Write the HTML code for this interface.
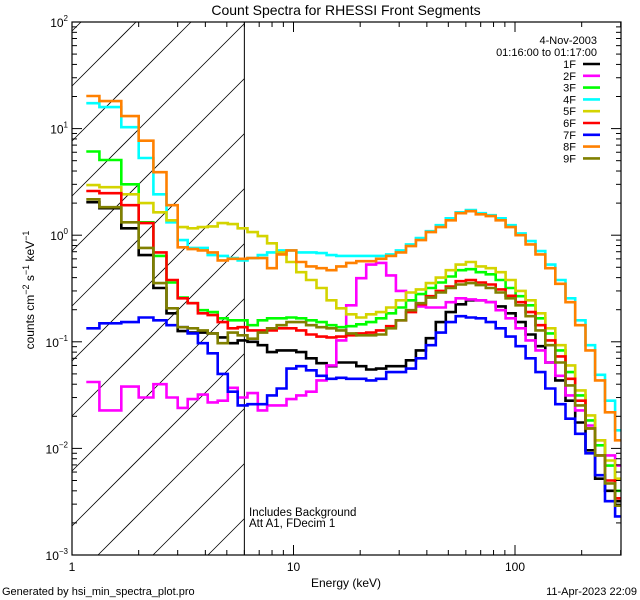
<!DOCTYPE html>
<html><head><meta charset="utf-8"><style>
html,body{margin:0;padding:0;background:#fff;width:640px;height:600px;overflow:hidden;}
svg{display:block;font-family:"Liberation Sans",sans-serif;overflow:hidden;}
</style></head><body>
<svg id="chart" width="640" height="600" viewBox="0 0 640 600">
<rect x="0" y="0" width="640" height="600" fill="#fff"/>
<text x="346" y="15" text-anchor="middle" font-size="14">Count Spectra for RHESSI Front Segments</text>
<g id="hatch"></g>
<g id="series"></g>
<g id="axes"></g>
<text x="597" y="44" text-anchor="end" font-size="11">4-Nov-2003</text>
<text x="597" y="56" text-anchor="end" font-size="11">01:16:00 to 01:17:00</text>
<g id="legend"></g>
<text x="249" y="516" font-size="11.5">Includes Background</text>
<text x="249" y="527" font-size="11.5">Att A1, FDecim 1</text>
<text x="346" y="587" text-anchor="middle" font-size="12">Energy (keV)</text>
<text transform="translate(34,290) rotate(-90)" text-anchor="middle" font-size="12">counts cm<tspan dy="-5" font-size="9">−2</tspan><tspan dy="5"> s</tspan><tspan dy="-5" font-size="9">−1</tspan><tspan dy="5"> keV</tspan><tspan dy="-5" font-size="9">−1</tspan></text>
<text x="2" y="595" font-size="11">Generated by hsi_min_spectra_plot.pro</text>
<text x="637" y="595" text-anchor="end" font-size="11">11-Apr-2023 22:09</text>
</svg>
<script>
const energyEdges=[1.16,1.33,1.67,2,2.33,2.67,3,3.33,3.7,4.1,4.55,5.05,5.6,6.2,6.9,7.6,8.4,9.3,10.3,11.4,12.7,14.1,15.6,17.3,19.2,21.3,23.6,26.2,29,32.2,35.7,39.6,43.9,48.7,54,60,66.5,73.8,81.8,90.7,100.6,111.6,123.8,137,152,169,187,208,230,255,283,301];
const seriesNames=["1F","2F","3F","4F","5F","6F","7F","8F","9F"];
const seriesColors=["#000000","#ff00ff","#00ff00","#00ffff","#d4d400","#ff0000","#0000ff","#ff8000","#808000"];
const s1F=[2.04,1.79,1.16,0.65,0.32,0.185,0.126,0.122,0.122,0.12,0.11,0.097,0.103,0.10,0.093,0.08,0.083,0.083,0.08,0.07,0.063,0.059,0.064,0.064,0.059,0.055,0.056,0.059,0.059,0.067,0.083,0.108,0.153,0.19,0.225,0.245,0.245,0.235,0.215,0.185,0.153,0.117,0.091,0.064,0.0434,0.028,0.0175,0.0096,0.0052,0.004,0.0032];
const s2F=[0.042,0.0227,0.038,0.030,0.040,0.030,0.024,0.029,0.032,0.027,0.028,0.037,0.030,0.033,0.0227,0.0253,0.0253,0.029,0.0314,0.034,0.0434,0.060,0.103,0.22,0.395,0.53,0.55,0.42,0.30,0.245,0.215,0.21,0.21,0.235,0.256,0.25,0.245,0.235,0.198,0.166,0.134,0.103,0.083,0.064,0.048,0.0314,0.0227,0.0164,0.0119,0.0086,0.0069];
const s3F=[6.1,5.07,3.0,1.32,0.64,0.36,0.26,0.23,0.198,0.19,0.166,0.159,0.159,0.143,0.159,0.166,0.166,0.169,0.166,0.159,0.153,0.143,0.137,0.14,0.146,0.153,0.166,0.185,0.21,0.245,0.28,0.32,0.36,0.41,0.47,0.48,0.45,0.43,0.38,0.32,0.268,0.22,0.166,0.12,0.083,0.052,0.0314,0.0183,0.0107,0.0069,0.004];
const s4F=[17.3,15.9,10.3,5.3,2.42,1.32,0.90,0.76,0.76,0.65,0.64,0.61,0.58,0.61,0.65,0.69,0.72,0.72,0.69,0.69,0.68,0.65,0.64,0.64,0.64,0.64,0.64,0.66,0.72,0.82,0.94,1.09,1.24,1.44,1.64,1.72,1.61,1.54,1.44,1.24,1.04,0.88,0.71,0.53,0.38,0.256,0.159,0.093,0.049,0.028,0.0148];
const s5F=[2.95,2.82,2.42,2.0,1.64,1.38,1.19,1.16,1.19,1.21,1.30,1.27,1.16,1.07,0.98,0.84,0.69,0.56,0.45,0.38,0.32,0.245,0.206,0.181,0.169,0.181,0.19,0.21,0.245,0.29,0.31,0.355,0.40,0.47,0.53,0.56,0.51,0.49,0.45,0.38,0.30,0.245,0.185,0.134,0.093,0.060,0.035,0.0204,0.0119,0.0077,0.0052];
const s6F=[2.6,2.48,1.91,1.30,0.69,0.38,0.256,0.23,0.185,0.178,0.153,0.134,0.137,0.128,0.128,0.128,0.134,0.134,0.128,0.117,0.112,0.11,0.112,0.115,0.12,0.122,0.128,0.14,0.159,0.19,0.225,0.268,0.30,0.33,0.37,0.38,0.36,0.345,0.31,0.27,0.235,0.19,0.143,0.103,0.073,0.045,0.028,0.0154,0.0086,0.005,0.0034];
const s7F=[0.134,0.149,0.153,0.169,0.159,0.143,0.137,0.12,0.097,0.078,0.05,0.034,0.0253,0.026,0.026,0.0314,0.0365,0.056,0.059,0.054,0.048,0.045,0.046,0.045,0.045,0.0434,0.045,0.052,0.052,0.056,0.07,0.093,0.122,0.153,0.174,0.169,0.166,0.153,0.134,0.112,0.091,0.07,0.052,0.0365,0.026,0.019,0.0137,0.009,0.0056,0.0032,0.0023];
const s8F=[20.2,18.1,13.1,7.7,3.9,1.91,0.77,0.74,0.72,0.69,0.58,0.60,0.60,0.61,0.61,0.49,0.66,0.72,0.56,0.51,0.49,0.47,0.51,0.55,0.57,0.57,0.60,0.64,0.69,0.79,0.90,1.07,1.19,1.38,1.61,1.68,1.57,1.51,1.38,1.19,1.0,0.82,0.66,0.49,0.35,0.235,0.143,0.083,0.0434,0.0218,0.0119];
const s9F=[2.17,1.83,1.32,0.76,0.355,0.206,0.137,0.134,0.128,0.12,0.097,0.122,0.115,0.107,0.122,0.134,0.143,0.153,0.153,0.143,0.137,0.134,0.128,0.12,0.115,0.115,0.117,0.134,0.159,0.198,0.23,0.26,0.29,0.32,0.345,0.355,0.34,0.32,0.29,0.256,0.22,0.174,0.128,0.093,0.064,0.039,0.0253,0.0154,0.0086,0.0047,0.0029];
const allSeries=[s1F,s2F,s3F,s4F,s5F,s6F,s7F,s8F,s9F];
const yTickExps=[-3,-2,-1,0,1,2];
const xTickLabels=["1","10","100"];
const xTickValues=[1,10,100];
const hatchLimit=6;

const NS="http://www.w3.org/2000/svg";
const L=72,R=621,T=22,B=555;
const xMin=1,xMax=Math.pow(10,(R-L)/221.5);
const yMinE=-3,yMaxE=2;
function xs(e){return L+(Math.log10(e)-Math.log10(xMin))/(Math.log10(xMax)-Math.log10(xMin))*(R-L);}
function ys(v){return B-(Math.log10(v)-yMinE)/(yMaxE-yMinE)*(B-T);}
function mk(tag,attrs,parent){const el=document.createElementNS(NS,tag);for(const k in attrs)el.setAttribute(k,attrs[k]);parent.appendChild(el);return el;}

const hatch=document.getElementById('hatch');
const hx=xs(hatchLimit);
for(let k=-12;k<14;k++){
  const y0=86+k*55;
  const xa=Math.max(L,L+y0-B), xb=Math.min(hx,L+y0-T);
  if(xb<=xa)continue;
  const ln=mk('line',{x1:xa,y1:y0-(xa-L),x2:xb,y2:y0-(xb-L),stroke:'#000','stroke-width':0.8},hatch);
  
  
}
const vl=mk('line',{x1:hx,y1:T,x2:hx,y2:B,stroke:'#000','stroke-width':1},hatch);



const sg=document.getElementById('series');
allSeries.forEach((vals,si)=>{
  let d='';
  for(let i=0;i<vals.length;i++){
    const x0=xs(energyEdges[i]),x1=Math.min(R,xs(energyEdges[i+1])),y=ys(vals[i]);
    d+=(i===0?'M':'L')+x0.toFixed(1)+','+y.toFixed(1)+'L'+x1.toFixed(1)+','+y.toFixed(1);
  }
  const p=mk('path',{d:d,fill:'none',stroke:seriesColors[si],'stroke-width':2.6,'stroke-linejoin':'miter'},sg);
  
  
});

const ax=document.getElementById('axes');
const fr=mk('rect',{x:L,y:T,width:R-L,height:B-T,fill:'none',stroke:'#000','stroke-width':1.2},ax);


for(let dec=0;dec<3;dec++){
  for(let m=1;m<10;m++){
    const e=Math.pow(10,dec)*m; if(e>xMax)break;
    const x=xs(e),len=(m===1)?10:5;
    if(m===1&&dec===0)continue;
    mk('line',{x1:x,y1:B,x2:x,y2:B-len,stroke:'#000','stroke-width':1},ax);
    mk('line',{x1:x,y1:T,x2:x,y2:T+len,stroke:'#000','stroke-width':1},ax);
  }
}
xTickValues.forEach((v,i)=>{
  const t=mk('text',{x:xs(v),y:B+16,'text-anchor':'middle','font-size':12},ax);
  t.textContent=xTickLabels[i];
  
  
});
for(let e=yMinE;e<yMaxE;e++){
  for(let m=1;m<10;m++){
    const v=Math.pow(10,e)*m,y=ys(v),len=(m===1)?10:5;
    if(m===1&&e===yMinE)continue;
    mk('line',{x1:L,y1:y,x2:L+len,y2:y,stroke:'#000','stroke-width':1},ax);
    mk('line',{x1:R,y1:y,x2:R-len,y2:y,stroke:'#000','stroke-width':1},ax);
  }
}
yTickExps.forEach(e=>{
  const y=ys(Math.pow(10,e));
  const t=mk('text',{x:L-4,y:y+5,'text-anchor':'end','font-size':12},ax);
  
  
  const a=mk('tspan',{},t);a.textContent='10';
  const b=mk('tspan',{dy:-6,'font-size':8},t);b.textContent=(e<0?'−':'')+Math.abs(e);
});

const lg=document.getElementById('legend');
seriesNames.forEach((n,i)=>{
  const y=64+i*11.8;
  const g=mk('g',{},lg);
  
  
  const t=mk('text',{x:576,y:y+4,'text-anchor':'end','font-size':11},g);
  t.textContent=n;
  mk('line',{x1:583,y1:y,x2:600,y2:y,stroke:seriesColors[i],'stroke-width':2.6},g);
});
</script>
</body></html>
